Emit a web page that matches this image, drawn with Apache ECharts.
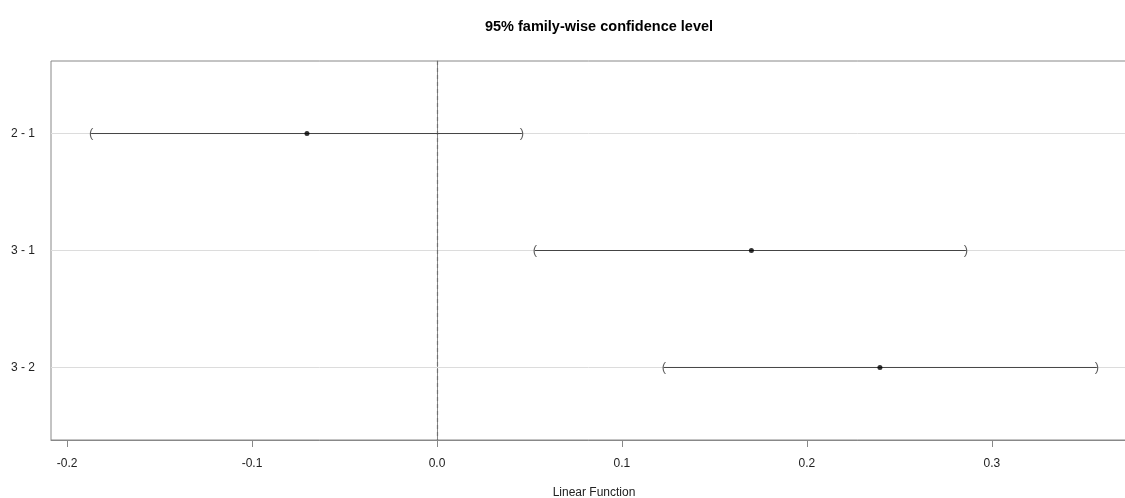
<!DOCTYPE html>
<html>
<head>
<meta charset="utf-8">
<script src="https://cdn.jsdelivr.net/npm/echarts@6/dist/echarts.min.js"></script>
<style>
  html, body { margin: 0; padding: 0; background: #fff; }
  #chart { width: 1125px; height: 498px; }
</style>
</head>
<body>
<div id="chart"></div>
<script>
// comparisons (top to bottom) and their simultaneous intervals
const comparisons = ['2 - 1', '3 - 1', '3 - 2']
const estimates = [-0.0703, 0.1700, 0.2395]
const lowers = [-0.1870, 0.0530, 0.1227]
const uppers = [0.0459, 0.2860, 0.3568]
const xTicks = [-0.2, -0.1, 0.0, 0.1, 0.2, 0.3]
const xTickLabels = ['-0.2', '-0.1', '0.0', '0.1', '0.2', '0.3']

const rows = comparisons.map((_, i) => i + 1)
const font = 'Liberation Sans, Arial, sans-serif'

const chart = echarts.init(document.getElementById('chart'))

const series = []

// reference lines: horizontal guides + dashed zero line (drawn underneath)
series.push({
  type: 'line',
  data: [],
  silent: true,
  markLine: {
    symbol: 'none',
    silent: true,
    z: 1,
    label: { show: false },
    data: [
      ...rows.map(r => ({ yAxis: r, lineStyle: { color: '#dcdcdc', width: 1, type: 'solid' } })),
      { xAxis: 0, lineStyle: { color: '#707070', width: 1.2, type: [4, 3] } }
    ]
  },
  z: 1
})

// interval segments
comparisons.forEach((name, i) => {
  series.push({
    name: name,
    type: 'line',
    data: [[lowers[i], rows[i]], [uppers[i], rows[i]]],
    showSymbol: false,
    symbol: 'none',
    lineStyle: { color: '#444', width: 1 },
    silent: true,
    z: 6
  })
})

// brackets at interval ends
const bracket = (vals, ch) => ({
  type: 'scatter',
  data: vals.map((v, i) => [v, rows[i]]),
  symbolSize: 0,
  silent: true,
  label: {
    show: true,
    position: 'inside',
    formatter: ch,
    color: '#333',
    fontFamily: font,
    fontSize: 13
  },
  z: 7
})
series.push(bracket(lowers, '('))
series.push(bracket(uppers, ')'))

// point estimates
series.push({
  type: 'scatter',
  data: estimates.map((v, i) => [v, rows[i]]),
  symbol: 'circle',
  symbolSize: 5,
  itemStyle: { color: '#000' },
  silent: true,
  z: 8
})

chart.setOption({
  animation: false,
  backgroundColor: '#fff',
  title: {
    text: '95% family-wise confidence level',
    left: 594,
    textAlign: 'center',
    top: 14,
    textStyle: { fontFamily: font, fontSize: 14.5, fontWeight: 'bold', color: '#000' }
  },
  grid: {
    left: 51,
    top: 61,
    width: 1086,
    height: 379,
    outerBoundsMode: 'none',
    containLabel: false,
    show: true,
    borderColor: '#888',
    borderWidth: 1
  },
  xAxis: {
    type: 'value',
    min: -0.2087,
    max: 0.3785,
    name: 'Linear Function',
    nameLocation: 'middle',
    nameGap: 47,
    nameTextStyle: { fontFamily: font, fontSize: 12, color: '#222' },
    axisLine: { show: true, lineStyle: { color: '#888' } },
    axisTick: { show: true, length: 7, customValues: xTicks, lineStyle: { color: '#888' } },
    axisLabel: {
      customValues: xTicks,
      formatter: v => xTickLabels[xTicks.findIndex(t => Math.abs(t - v) < 1e-9)] ?? '',
      margin: 18,
      fontFamily: font,
      fontSize: 12,
      color: '#222'
    },
    splitLine: { show: false }
  },
  yAxis: {
    type: 'value',
    inverse: true,
    min: 0.38,
    max: 3.62,
    axisLine: { show: true, lineStyle: { color: '#888' } },
    axisTick: { show: true, length: 7, customValues: rows, lineStyle: { color: '#888' } },
    axisLabel: {
      customValues: rows,
      formatter: v => comparisons[Math.round(v) - 1] ?? '',
      margin: 16,
      fontFamily: font,
      fontSize: 12,
      color: '#222'
    },
    splitLine: { show: false }
  },
  series
})
</script>
</body>
</html>
